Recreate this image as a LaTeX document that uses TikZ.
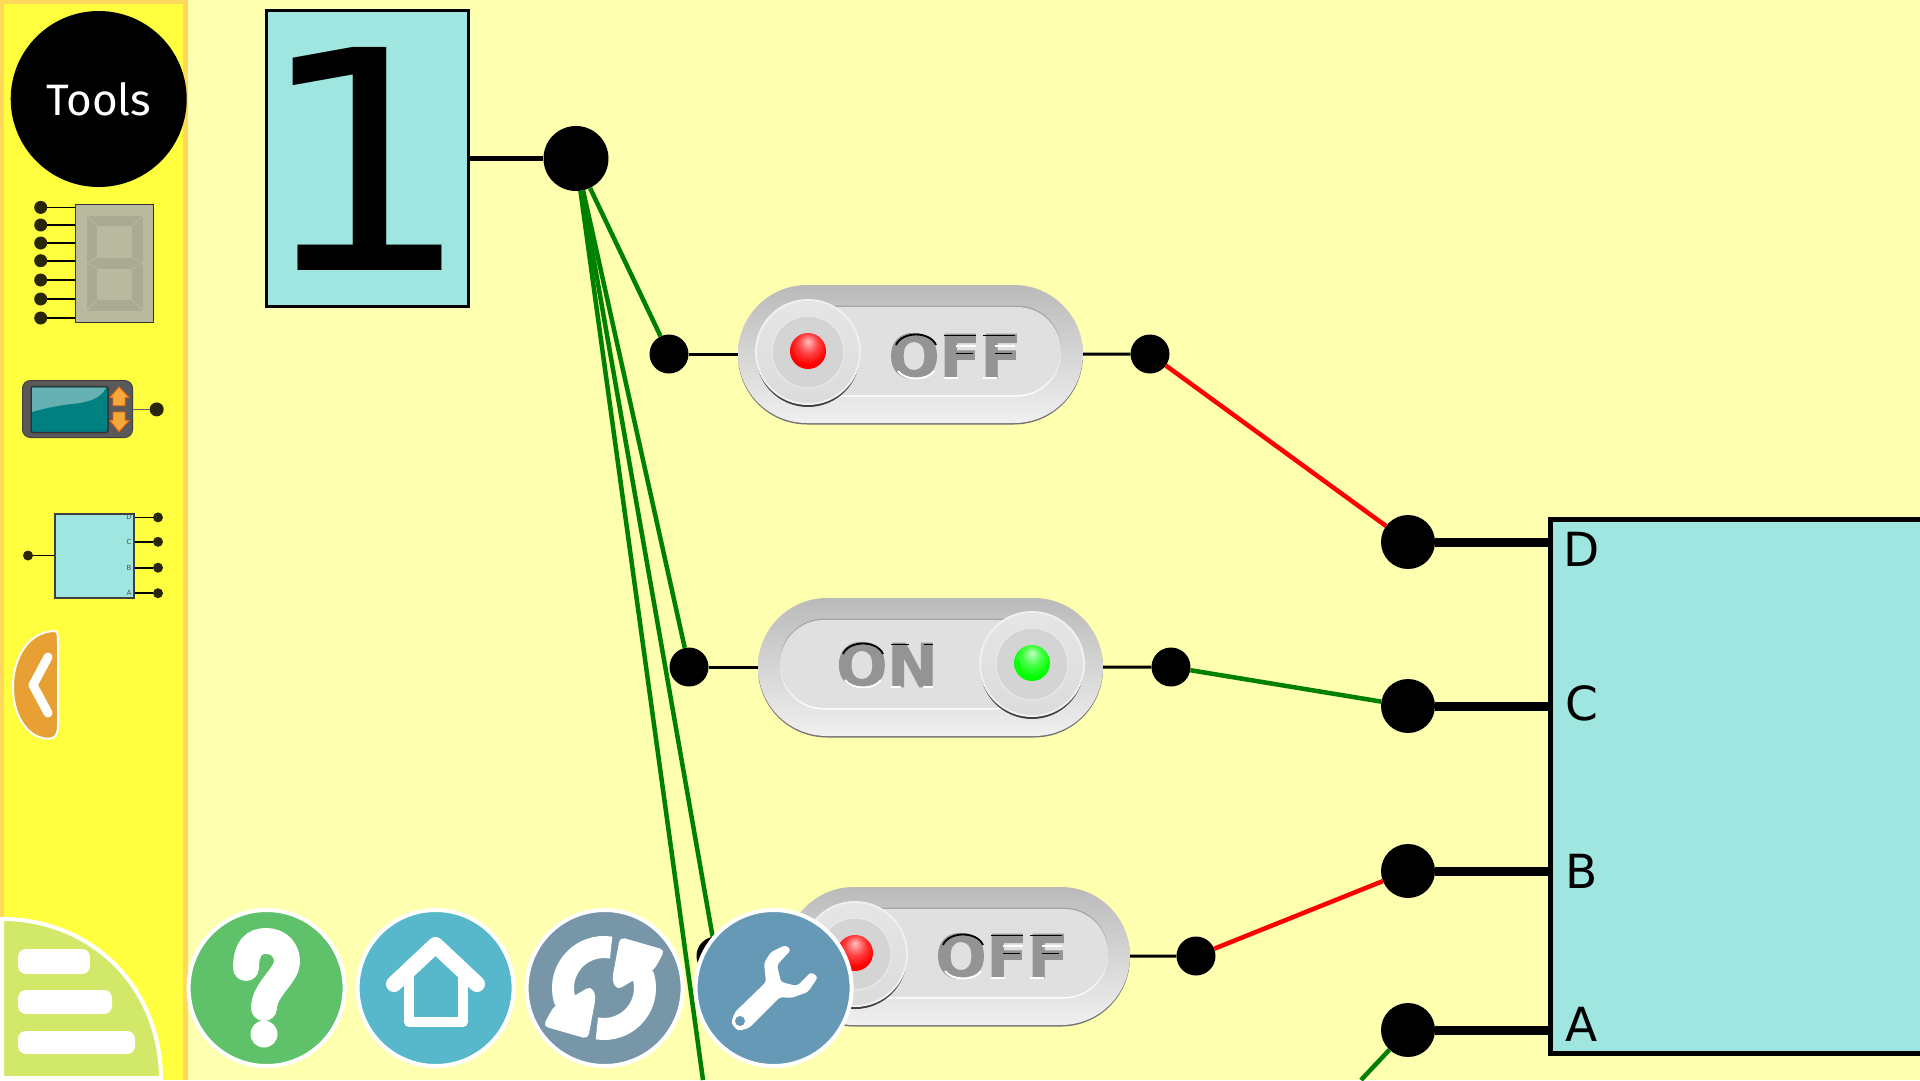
\documentclass[tikz,border=0pt]{standalone}
\usepackage{fontspec}
\setmainfont{DejaVu Sans}
\newfontfamily\toolsfont{Fira Sans}
\newfontfamily\switchfont[FakeBold=1.5]{DejaVu Sans Bold}
\usetikzlibrary{positioning,shapes.misc}

\definecolor{pagebg}{HTML}{FFFFB0}
\definecolor{panelbg}{HTML}{FFFF40}
\definecolor{panelrim}{HTML}{FFD85C}
\definecolor{chipcyan}{HTML}{9FE6E0}
\definecolor{dotdark}{HTML}{2A2608}
\definecolor{wiregreen}{HTML}{008000}
\definecolor{segback}{HTML}{B9B99F}
\definecolor{segfront}{HTML}{A9AA94}
\definecolor{menugreen}{HTML}{D2E868}
\definecolor{helpgreen}{HTML}{5FC169}
\definecolor{hometeal}{HTML}{57B8CB}
\definecolor{reloadgrey}{HTML}{7796A8}
\definecolor{wrenchblue}{HTML}{6699B5}
\definecolor{backorange}{HTML}{E89F33}
\definecolor{arroworange}{HTML}{F5A83C}

\pgfdeclareradialshading{ledred}{\pgfpoint{0bp}{14bp}}{color(0bp)=(white!75!red); color(14bp)=(white!25!red); color(26bp)=(red); color(50bp)=(red!95!black)}
\pgfdeclareradialshading{ledgreen}{\pgfpoint{0bp}{14bp}}{color(0bp)=(white!75!green); color(14bp)=(white!25!green); color(26bp)=(green); color(50bp)=(green!95!black)}

\tikzset{
  bigdot/.style={circle, fill=black, inner sep=0pt, minimum size=65pt},
  plugdot/.style={circle, fill=black, inner sep=0pt, minimum size=39pt},
  pindot/.style={circle, fill=black, inner sep=0pt, minimum size=54pt},
  minidot/.style={circle, fill=dotdark, inner sep=0pt, minimum size=#1},
  miniwire/.style={black, line width=1.6pt},
  greenwire/.style={wiregreen, line width=4.5pt},
  redwire/.style={red, line width=4.5pt},
  plugwire/.style={black, line width=3pt},
  pinwire/.style={black, line width=9pt},
  pill/.style={rounded rectangle, inner sep=0pt, minimum width=345pt, minimum height=138pt},
  innerpill/.style={rounded rectangle, inner sep=0pt, minimum width=301pt, minimum height=88pt},
  roundknob/.style={circle, inner sep=0pt, minimum size=#1},
  switchtext/.style={font=\switchfont\fontsize{60}{60}\selectfont, inner sep=0pt, text=black!42},
  toolbtn/.style={circle, draw=white, line width=4pt, inner sep=0pt, minimum size=156pt},
  pinlabel/.style={font=\fontsize{47}{47}\selectfont, inner sep=0pt},
  tinylabel/.style={font=\fontsize{7}{7}\selectfont, text=black!70, inner sep=0pt},
  darkedge/.style={black, line width=1.8pt},
  lightedge/.style={white, line width=2pt},
}

\newcommand{\switchbody}[3]{
  \node [pill, fill=black!55] (#1edge) at (#2,#3+1.5) {};
  \node [pill, top color=black!27, bottom color=black!6] (#1) at (#2,#3) {};
  \node [innerpill, fill=black!35] (#1top) at (#2,#3-4.5) {};
  \node [innerpill, fill=white] (#1low) at (#2,#3-1.5) {};
  \node [innerpill, fill=black!12] (#1face) at (#2,#3-3) {};
}
\newcommand{\switchknob}[4]{
  \node [roundknob=104pt, fill=black!75] (#1shade) at (#2,#3+3) {};
  \node [roundknob=104pt, draw=black!6, line width=2pt, top color=black!10, bottom color=black!14] (#1) at (#2,#3) {};
  \node [roundknob=72pt, draw=black!8, line width=1pt, fill=black!17] (#1in) at (#2,#3) {};
  \node [roundknob=36pt, shading=#4] (#1led) at (#2,#3-1) {};
}
% edges of the pressed-in letters
\newcommand{\letterO}[2]{
  \draw [darkedge, shift={(#1,#2)}] (-20,-11) .. controls (-14,-25) and (14,-25) .. (20,-11);
  \draw [lightedge, shift={(#1,#2)}] (-18,15) .. controls (-11,25) and (11,25) .. (18,15);
}
\newcommand{\letterF}[2]{
  \draw [darkedge, shift={(#1,#2)}] (-16,-20.5) -- (16,-20.5) (-4,-2.5) -- (13,-2.5);
  \draw [lightedge, shift={(#1,#2)}] (-4,-10.5) -- (16,-10.5) (-16,22) -- (-2,22);
}
\newcommand{\letterN}[2]{
  \draw [darkedge, shift={(#1,#2)}] (-21,-20.5) -- (-3,-20.5) (12,-20.5) -- (21,-20.5);
  \draw [lightedge, shift={(#1,#2)}] (-21,22) -- (-11,22) (11,22) -- (21,22);
}

\begin{document}
\begin{tikzpicture}[x=1pt, y=-1pt]
  \useasboundingbox (0,0) rectangle (1920,1080);
  \clip (0,0) rectangle (1920,1080);
  \fill [pagebg] (0,0) rectangle (1920,1080);

  % tool panel
  \fill [panelrim] (0,0) rectangle (187.5,1080);
  \fill [panelbg] (4,4) rectangle (183,1080);
  \node [circle, fill=black, inner sep=0pt, minimum size=176pt, text=white, font=\toolsfont\fontsize{44}{44}\selectfont] (tools) at (98.7,99) {Tools};

  % seven segment icon
  \node [draw=black!80, line width=1.2pt, fill=segback, inner sep=0pt, minimum width=78pt, minimum height=118pt] (segicon) at (114.7,263.4) {};
  \fill [segfront] (87,216) rectangle (143,310.6);
  \fill [segback] (97,226) rectangle (132,257.7);
  \fill [segback] (97,268.8) rectangle (132,300);
  \draw [segback, line width=.8pt] (87,216) -- (97,226) (143,216) -- (132,226) (87,310.6) -- (97,300) (143,310.6) -- (132,300)
    (87,263) -- (97,257.7) (143,263) -- (132,257.7) (87,263) -- (97,268.8) (143,263) -- (132,268.8);
  \foreach \n/\y in {1/207.4,2/225,3/243,4/260.7,5/280,6/299,7/318} {
    \node [minidot=13pt] (seg\n) at (40.7,\y) {};
    \draw [miniwire] (seg\n) -- (seg\n -| segicon.west);
  }

  % counter icon
  \node [rounded corners=8pt, fill=black!65, draw=black!75, line width=1pt, inner sep=0pt, minimum width=110pt, minimum height=57pt] (counticon) at (77.5,409) {};
  \node [rounded corners=2pt, draw=black!80, line width=1.5pt, fill=teal, inner sep=0pt, minimum width=77pt, minimum height=46pt] (countscreen) at (69.5,409.5) {};
  \fill [teal!60!white] (32,387.5) -- (106,387.5) .. controls (102,396) and (95,400) .. (80,403) .. controls (60,405) and (45,408) .. (32,412) -- cycle;
  \fill [arroworange, draw=orange!80!red, line width=.8pt] (119,387) -- (129,397.5) -- (125,397.5) -- (125,405.7) -- (113,405.7) -- (113,397.5) -- (110,397.5) -- cycle;
  \fill [arroworange, draw=orange!80!red, line width=.8pt] (119,431.6) -- (129,420.5) -- (125,420.5) -- (125,412) -- (113,412) -- (113,420.5) -- (110,420.5) -- cycle;
  \node [minidot=14pt] (countdot) at (156.7,409.4) {};
  \draw [black!60, line width=1.2pt] (counticon.east |- countdot) -- (countdot);

  % decoder icon
  \node [draw=black!75, line width=1.2pt, fill=chipcyan, inner sep=0pt, minimum width=79pt, minimum height=84pt] (decicon) at (94.5,556) {};
  \node [minidot=10pt] (decin) at (28,555.5) {};
  \draw [miniwire] (decin) -- (decin -| decicon.west);
  \foreach \l/\y in {D/517.4,C/541.8,B/567.7,A/593.2} {
    \node [minidot=10pt] (dec\l) at (158,\y) {};
    \draw [miniwire] (dec\l -| decicon.east) -- (dec\l);
    \node [tinylabel] (lab\l) at (129,\y) {\l};
  }

  % back tab
  \filldraw [fill=backorange, draw=white, line width=2pt] (55,631) .. controls (30,631) and (13,656) .. (13,687)
    .. controls (13,719) and (30,738.6) .. (48,738.6) .. controls (56,738.6) and (58,734) .. (58,725) -- (58,644.7)
    .. controls (58,635.6) and (58,631) .. (55,631) -- cycle;
  \draw [white, line width=9pt, line cap=round, line join=round] (48,657) -- (33,685) -- (48,713);

  % number display
  \node [draw, line width=3pt, fill=chipcyan, inner sep=0pt, minimum width=202pt, minimum height=296pt,
    font=\fontsize{306}{306}\selectfont] (numbox) at (367.2,158.5) {\makebox[0pt]{\scalebox{1.12}[1]{1}\kern6pt}};
  \node [bigdot] (outdot) at (576,158.5) {};
  \draw [black, line width=5pt] (numbox) -- (outdot);

  % switches
  \switchbody{swa}{910.5}{354}
  \switchbody{swb}{930.5}{667}
  \switchbody{swc}{957.5}{956}
  \node [switchtext] (offa) at (955,356) {OFF};
  \node [switchtext] (onb) at (887,665) {ON};
  \node [switchtext] (offc) at (1002,956) {OFF};
  \letterO{916}{356}
  \letterF{960}{356}
  \letterF{999}{356}
  \letterO{863}{665}
  \letterN{912}{665}
  \letterO{963}{956}
  \letterF{1007}{956}
  \letterF{1046}{956}
  \switchknob{knoba}{808}{352}{ledred}
  \switchknob{knobb}{1032}{664}{ledgreen}
  \switchknob{knobc}{855}{954}{ledred}

  \node [plugdot] (ina) at (669,354) {};
  \node [plugdot] (inb) at (689,667) {};
  \node [plugdot] (inc) at (716,956) {};
  \node [plugdot] (outa) at (1150,354) {};
  \node [plugdot] (outb) at (1171,667) {};
  \node [plugdot] (outc) at (1196,956) {};
  \draw [plugwire] (ina) -- (swa);
  \draw [plugwire] (inb) -- (swb);
  \draw [plugwire] (inc) -- (swc);
  \draw [plugwire] (swa) -- (outa);
  \draw [plugwire] (swb) -- (outb);
  \draw [plugwire] (swc) -- (outc);

  % decoder chip
  \node [draw, line width=5pt, fill=chipcyan, inner sep=0pt, minimum width=400pt, minimum height=534pt] (chip) at (1750.5,786) {};
  \node [pinlabel] (labd) at (1582,549) {D};
  \node [pinlabel] (labc) at (1582,703) {C};
  \node [pinlabel] (labb) at (1582,871) {B};
  \node [pinlabel] (laba) at (1582,1024) {A};
  \node [pindot] (pind) at (1408,542) {};
  \node [pindot] (pinc) at (1408,706) {};
  \node [pindot] (pinb) at (1408,871) {};
  \node [pindot] (pina) at (1408,1030) {};
  \draw [pinwire] (pind) -- (pind -| chip.west);
  \draw [pinwire] (pinc) -- (pinc -| chip.west);
  \draw [pinwire] (pinb) -- (pinb -| chip.west);
  \draw [pinwire] (pina) -- (pina -| chip.west);

  % wires
  \coordinate (offpage) at (703,1080);
  \coordinate (offchip) at (1361,1080);
  \draw [greenwire] (outdot) -- (ina);
  \draw [greenwire] (outdot) -- (inb);
  \draw [greenwire] (outdot) -- (inc);
  \draw [greenwire] (outdot) -- (offpage);
  \draw [redwire] (outa) -- (pind);
  \draw [greenwire] (outb) -- (pinc);
  \draw [redwire] (outc) -- (pinb);
  \draw [greenwire] (pina) -- (offchip);

  % menu corner
  \filldraw [fill=menugreen, draw=white, line width=4pt] (2,919) .. controls (90,919) and (160,985) .. (161,1078) -- (2,1078) -- cycle;
  \fill [white, rounded corners=8pt] (18,949) rectangle (90,974);
  \fill [white, rounded corners=8pt] (18,990) rectangle (112,1014);
  \fill [white, rounded corners=8pt] (18,1031) rectangle (135,1054);

  % round buttons
  \node [toolbtn, fill=helpgreen] (helpbtn) at (266.6,988) {};
  \node [toolbtn, fill=hometeal, right=9pt of helpbtn] (homebtn) {};
  \node [toolbtn, fill=reloadgrey, right=9pt of homebtn] (reloadbtn) {};
  \node [toolbtn, fill=wrenchblue, right=9pt of reloadbtn] (wrenchbtn) {};

  % help icon
  \draw [white, line width=26pt, line cap=round] (246,968) .. controls (246,948) and (254,941) .. (266,941)
    .. controls (279,941) and (287,950) .. (287,962) .. controls (287,975) and (264,990) .. (264,1008);
  \fill [white] (264,1034) circle [radius=13.5];

  % home icon
  \draw [white, line width=16pt, line cap=round, line join=round] (394,984) -- (435.5,945) -- (477,984);
  \draw [white, line width=10pt, line join=round] (409,975) -- (409,1022) -- (463,1022) -- (463,975);

  % reload icon
  \draw [white, line width=22pt] (604,988) ++(-20:41) arc [start angle=-20, end angle=100, radius=41];
  \draw [white, line width=22pt] (604,988) ++(160:41) arc [start angle=160, end angle=280, radius=41];
  \fill [white, rounded corners=5pt] (620,937) -- (665,950) -- (654,970) -- (634,980) -- (617,990) -- (612,980) -- cycle;
  \fill [white, rounded corners=5pt] (588,1039) -- (543,1026) -- (554,1006) -- (574,996) -- (591,986) -- (596,996) -- cycle;

  % wrench icon
  \fill [white, rounded corners=3pt] (785.6,945) -- (791,950) -- (777,965) -- (781,982) -- (797,986) -- (811,972) -- (818,977)
    -- (808,992) -- (791,998) -- (780,997) -- (749,1028) -- (738,1031) -- (731,1023) -- (735,1012) -- (766,982) -- (764,963) -- (771,952) -- cycle;
  \fill [wrenchblue] (740,1021) circle [radius=5];
\end{tikzpicture}
\end{document}
